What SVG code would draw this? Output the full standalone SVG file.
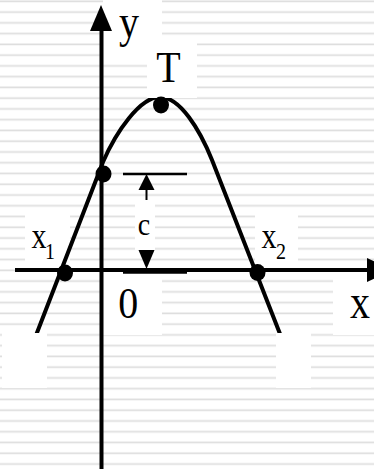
<svg xmlns="http://www.w3.org/2000/svg" width="374" height="469" viewBox="0 0 374 469">
<style>
.lbl{font-family:"Liberation Serif","Times New Roman",serif;fill:#000}
.w{fill:#fff}
.ax{stroke:#000;stroke-width:4;fill:none}
.crv{stroke:#000;stroke-width:4;fill:none;stroke-linejoin:round}
.dot{fill:#000}
</style>
<defs>
<pattern id="stripes" patternUnits="userSpaceOnUse" width="374" height="10.76">
<rect x="0" y="0" width="374" height="1" fill="#eeeeee"/>
<rect x="0" y="1" width="374" height="1.2" fill="#dedede"/>
</pattern>
</defs>
<rect id="background" x="0" y="0" width="374" height="469" fill="#fff"/>
<rect x="0" y="0" width="374" height="469" fill="url(#stripes)"/>
<g id="label-boxes">
<rect class="w" x="103" y="0" width="59" height="58"/>
<rect class="w" x="25" y="214" width="45" height="48"/>
<rect class="w" x="255" y="215" width="43" height="47"/>
<rect class="w" x="135" y="200" width="20" height="50"/>
<rect class="w" x="102" y="273" width="60" height="62"/>
<rect class="w" x="333" y="277" width="41" height="58"/>
</g>
<g id="curve">
<path class="crv" d="M28,356 L103,162 C116,132 140,97 160,97 C180,97 200,130 212,160 L291,362"/>
</g>
<g id="label-boxes-over">
<rect class="w" x="147" y="42" width="50" height="56"/>
<rect class="w" x="2" y="333" width="45" height="55"/>
<rect class="w" x="276" y="333" width="35" height="55"/>
</g>
<g id="connectors">
<line class="ax" x1="101.5" y1="469" x2="101.5" y2="28"/>
<polygon points="101,5 90,31 112,31" fill="#000"/>
<line class="ax" x1="15" y1="270" x2="369" y2="270"/>
<polygon points="367,258 367,282 393,270" fill="#000"/>
<line x1="123" y1="174" x2="187" y2="174" stroke="#000" stroke-width="2.5"/>
<line x1="123" y1="272" x2="187" y2="272" stroke="#000" stroke-width="3.5"/>
<line x1="146.5" y1="188" x2="146.5" y2="252" stroke="#000" stroke-width="2"/>
<rect class="w" x="135" y="200" width="20" height="50"/>
<polygon points="146.5,174 138.5,190 154.5,190" fill="#000"/>
<polygon points="146.5,269 138.5,250 154.5,250" fill="#000"/>
</g>
<g id="points">
<ellipse id="T-point" class="dot" cx="161" cy="105" rx="8" ry="8.5"/>
<ellipse id="c-point" class="dot" cx="103.5" cy="174" rx="8" ry="8.5"/>
<ellipse id="x1-point" class="dot" cx="65" cy="273" rx="8" ry="8.5"/>
<ellipse id="x2-point" class="dot" cx="257.5" cy="272.5" rx="8" ry="8.5"/>
</g>
<g id="labels">
<text class="lbl" font-size="40" transform="translate(119,37) scale(1,1.15)">y</text>
<text class="lbl" font-size="40" text-anchor="middle" transform="translate(168.5,82) scale(1,1.1)">T</text>
<text class="lbl" font-size="40" text-anchor="middle" transform="translate(128.3,318.3) scale(1,1.1)">0</text>
<text class="lbl" font-size="40" text-anchor="middle" transform="translate(360,318.3) scale(1,1.2)">x</text>
<text class="lbl" font-size="28" text-anchor="middle" transform="translate(144,235) scale(1,1.15)">c</text>
<text class="lbl" font-size="30" transform="translate(31.5,248.3) scale(1,1.22)">x</text>
<text class="lbl" font-size="20" transform="translate(45,259.3) scale(1,1.2)">1</text>
<text class="lbl" font-size="30" transform="translate(261.5,248.3) scale(1,1.22)">x</text>
<text class="lbl" font-size="20" transform="translate(276,259.3) scale(1,1.2)">2</text>
</g>
</svg>
